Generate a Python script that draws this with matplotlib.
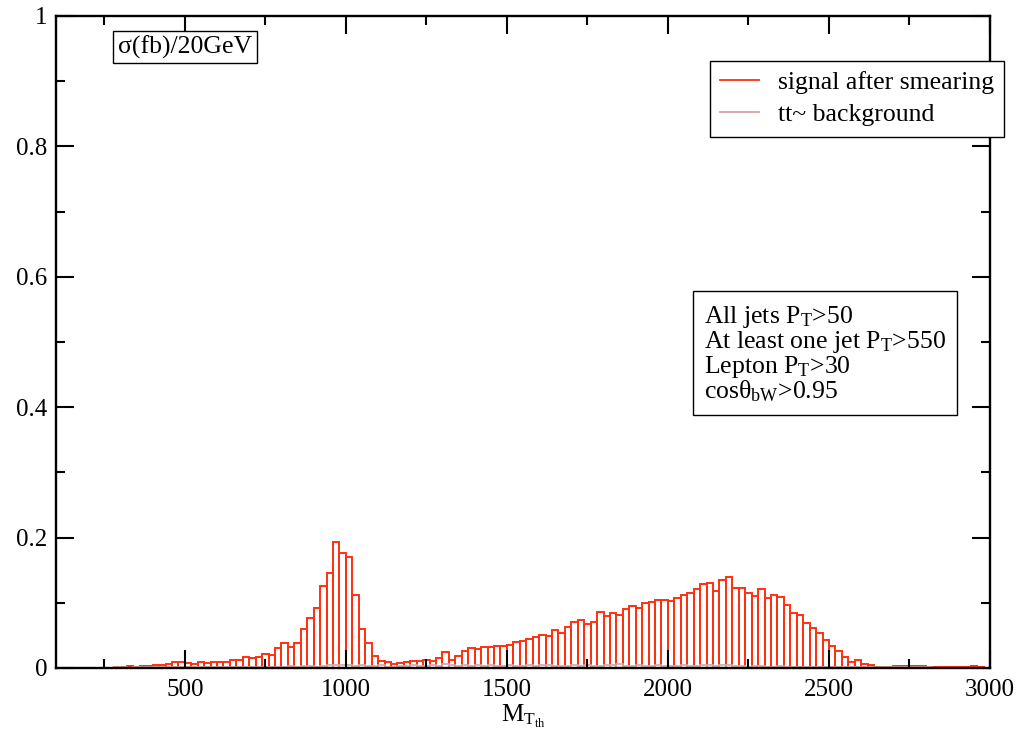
import numpy as np
import matplotlib
matplotlib.use("Agg")
import matplotlib.pyplot as plt
from matplotlib.lines import Line2D
from matplotlib.ticker import MultipleLocator

plt.rcParams['font.family'] = ['Liberation Serif', 'DejaVu Serif']
plt.rcParams['mathtext.fontset'] = 'custom'
plt.rcParams['mathtext.rm'] = 'Liberation Serif'
plt.rcParams['mathtext.it'] = 'Liberation Serif:italic'

# 20 GeV bins, left edges 280 ... 2960
bin_width = 20
bin_left = np.arange(280, 2980, bin_width)

signal = [
    0.001, 0.0015, 0.0025, 0.002, 0.0025, 0.0025, 0.0045, 0.004, 0.006, 0.0085,   # 280-460
    0.0085, 0.007, 0.0065, 0.0085, 0.0075, 0.0085, 0.0095, 0.0085, 0.013, 0.012,   # 480-660
    0.017, 0.015, 0.017, 0.022, 0.020, 0.030, 0.038, 0.032, 0.039, 0.060,          # 680-860
    0.076, 0.092, 0.125, 0.145, 0.194, 0.177, 0.170, 0.112, 0.060, 0.039,          # 880-1060
    0.018, 0.011, 0.009, 0.0066, 0.007, 0.0097, 0.011, 0.011, 0.012, 0.011,        # 1080-1260
    0.016, 0.024, 0.013, 0.019, 0.026, 0.030, 0.029, 0.032, 0.032, 0.033,          # 1280-1460
    0.033, 0.035, 0.040, 0.041, 0.044, 0.048, 0.050, 0.049, 0.059, 0.053,          # 1480-1660
    0.063, 0.070, 0.073, 0.068, 0.071, 0.086, 0.080, 0.084, 0.082, 0.090,          # 1680-1860
    0.095, 0.092, 0.099, 0.101, 0.104, 0.104, 0.103, 0.108, 0.112, 0.115,          # 1880-2060
    0.121, 0.129, 0.130, 0.118, 0.135, 0.139, 0.123, 0.123, 0.115, 0.111,          # 2080-2260
    0.121, 0.108, 0.112, 0.109, 0.097, 0.085, 0.081, 0.069, 0.062, 0.053,          # 2280-2460
    0.043, 0.034, 0.026, 0.017, 0.0097, 0.013, 0.0056, 0.0046, 0.002, 0.002,       # 2480-2660
    0.002, 0.0026, 0.0036, 0.0026, 0.0026, 0.0036, 0.002, 0.001, 0.001, 0.001,     # 2680-2860
    0.001, 0.001, 0.001, 0.0026, 0.001,                                            # 2880-2960
]

background = [
    0.001, 0.001, 0.0, 0.001, 0.001, 0.001, 0.001, 0.001, 0.001, 0.001,
    0.001, 0.002, 0.001, 0.001, 0.002, 0.001, 0.002, 0.002, 0.001, 0.002,
    0.002, 0.002, 0.002, 0.002, 0.002, 0.002, 0.002, 0.003, 0.002, 0.003,
    0.003, 0.002, 0.003, 0.004, 0.005, 0.005, 0.004, 0.003, 0.004, 0.003,
    0.003, 0.004, 0.002, 0.002, 0.003, 0.003, 0.004, 0.003, 0.003, 0.004,
    0.003, 0.006, 0.004, 0.003, 0.004, 0.003, 0.004, 0.003, 0.004, 0.003,
    0.003, 0.004, 0.003, 0.003, 0.004, 0.003, 0.004, 0.005, 0.003, 0.003,
    0.003, 0.004, 0.003, 0.004, 0.003, 0.003, 0.004, 0.005, 0.006, 0.003,
    0.003, 0.004, 0.003, 0.003, 0.004, 0.003, 0.003, 0.003, 0.004, 0.003,
    0.003, 0.004, 0.005, 0.003, 0.004, 0.004, 0.003, 0.003, 0.002, 0.003,
    0.003, 0.002, 0.002, 0.003, 0.002, 0.002, 0.002, 0.002, 0.002, 0.002,
    0.002, 0.001, 0.001, 0.002, 0.001, 0.001, 0.001, 0.001, 0.001, 0.001,
    0.001, 0.001, 0.001, 0.001, 0.001, 0.001, 0.001, 0.0, 0.0, 0.0,
    0.0, 0.0, 0.0, 0.0, 0.0,
]

xticks = [500, 1000, 1500, 2000, 2500, 3000]
yticks = [0, 0.2, 0.4, 0.6, 0.8, 1.0]
ytick_labels = ['0', '0.2', '0.4', '0.6', '0.8', '1']

legend_labels = ['signal after smearing', 'tt~ background']
cuts_text = ('All jets P$_\\mathrm{T}$>50\n'
             'At least one jet P$_\\mathrm{T}$>550\n'
             'Lepton P$_\\mathrm{T}$>30\n'
             'cosθ$_\\mathrm{bW}$>0.95')

sig_color = '#ff3010'
bg_color = '#d8a4a4'

fig = plt.figure(figsize=(10.19, 7.40), dpi=100)
ax = fig.add_axes([0.05496, 0.09730, 0.91658, 0.88108])

ax.bar(bin_left, signal, width=bin_width, align='edge', fill=False,
       edgecolor=sig_color, linewidth=1.4)
ax.bar(bin_left, background, width=bin_width, align='edge', fill=False,
       edgecolor=bg_color, linewidth=1.2)

ax.set_xlim(100, 3000)
ax.set_ylim(0, 1)
ax.set_xticks(xticks)
ax.set_yticks(yticks)
ax.set_yticklabels(ytick_labels)
ax.xaxis.set_minor_locator(MultipleLocator(250))
ax.yaxis.set_minor_locator(MultipleLocator(0.1))
ax.tick_params(which='both', direction='in', top=True, right=True,
               width=1.5, labelsize=18, colors='black')
ax.tick_params(which='major', length=13)
ax.tick_params(which='minor', length=6.5)
ax.tick_params(axis='x', pad=8)
ax.tick_params(axis='y', pad=6)
for sp in ax.spines.values():
    sp.set_linewidth(1.7)

ax.set_xlabel(r'$\mathrm{M}_{\mathrm{T}_{\mathrm{th}}}$', fontsize=18, labelpad=1)

handles = [Line2D([], [], color=sig_color, lw=1.3),
           Line2D([], [], color=bg_color, lw=1.3)]
leg = ax.legend(handles, legend_labels, loc='upper left',
                bbox_to_anchor=(710 / 1019, 1 - 61 / 740),
                bbox_transform=fig.transFigure, fontsize=18.5,
                fancybox=False, framealpha=1, edgecolor='black',
                handlelength=1.5, handletextpad=0.75, borderpad=0.4,
                labelspacing=0.35, borderaxespad=0)
leg.get_frame().set_linewidth(1.0)

fig.text(118 / 1019, 1 - 47 / 740, 'σ(fb)/20GeV', fontsize=18.5, va='center',
         ha='left', bbox=dict(boxstyle='square,pad=0.18', fc='white',
                              ec='black', lw=1.0))

fig.text(704 / 1019, 1 - 354 / 740, cuts_text, fontsize=18.5, va='center',
         ha='left', linespacing=0.95,
         bbox=dict(boxstyle='square,pad=0.42', fc='white', ec='black', lw=1.0))

fig.savefig('out.png', dpi=100)
